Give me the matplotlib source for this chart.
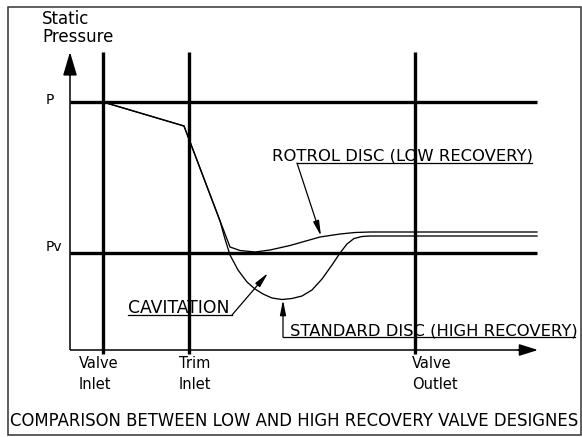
import matplotlib
matplotlib.use("Agg")
import matplotlib.pyplot as plt
from matplotlib.patches import Rectangle

# ---- data (drawing units: x = position along valve, y = static pressure, screen-like, down = lower) ----
station_names = ["Valve\nInlet", "Trim\nInlet", "Valve\nOutlet"]
station_x = [103, 189, 415]
level_names = ["P", "Pv"]
level_y = [102, 253]

low_rec_x = [103, 184, 230, 240, 255, 270, 290, 320, 340, 355, 370, 537]
low_rec_y = [102, 126, 247, 250.5, 252, 250, 245.5, 237, 234, 232.5, 232, 232]

high_rec_x = [103, 184, 220, 225, 230, 238, 247, 255, 263, 272, 282, 292, 302, 312, 322, 332, 340, 347, 354, 362, 370, 537]
high_rec_y = [102, 126, 221, 239, 255, 270, 282, 289, 294, 298, 299.5, 298.5, 296, 290, 279, 265, 253, 244, 238.5, 236.5, 236, 236]

callouts = ["ROTROL DISC (LOW RECOVERY)", "CAVITATION", "STANDARD DISC (HIGH RECOVERY)"]
title = "COMPARISON BETWEEN LOW AND HIGH RECOVERY VALVE DESIGNES"

fig = plt.figure(figsize=(5.82, 4.37), dpi=100)
ax = fig.add_axes([0, 0, 1, 1])
ax.set_xlim(0, 582)
ax.set_ylim(437, 0)
ax.axis("off")

FONT = "DejaVu Sans"

# border
ax.add_patch(Rectangle((8, 7), 573, 428, fill=False, ec="#333333", lw=1.1))

# axes with arrows
ax.plot([70, 70], [350, 70], color="k", lw=1.1, solid_capstyle="butt")
ax.plot([70, 524], [350, 350], color="k", lw=1.1, solid_capstyle="butt")
ax.annotate("", xy=(70, 52), xytext=(70, 75),
            arrowprops=dict(arrowstyle="-|>,head_length=1.45,head_width=0.43", color="k", lw=1.1,
                            shrinkA=0, shrinkB=0, mutation_scale=10))
ax.annotate("", xy=(538, 350), xytext=(518, 350),
            arrowprops=dict(arrowstyle="-|>,head_length=1.15,head_width=0.36", color="k", lw=1.1,
                            shrinkA=0, shrinkB=0, mutation_scale=10))

# station verticals
for sx in station_x:
    ax.plot([sx, sx], [52, 354], color="k", lw=2.4, solid_capstyle="butt")
# pressure levels
for ly in level_y:
    ax.plot([70, 537], [ly, ly], color="k", lw=2.4, solid_capstyle="butt")

# curves
ax.plot(low_rec_x, low_rec_y, color="k", lw=0.95, solid_joinstyle="round")
ax.plot(high_rec_x, high_rec_y, color="k", lw=0.95, solid_joinstyle="round")

# text
ax.text(42, 23.5, "Static", fontsize=12, family=FONT, ha="left", va="baseline")
ax.text(42, 42, "Pressure", fontsize=12, family=FONT, ha="left", va="baseline")
ax.text(46, 104, level_names[0], fontsize=10, family=FONT, ha="left", va="baseline")
ax.text(46, 251, level_names[1], fontsize=10, family=FONT, ha="left", va="baseline")

label_left = [79, 179, 412]
for name, lx in zip(station_names, label_left):
    l1, l2 = name.split("\n")
    ax.text(lx, 368.5, l1, fontsize=10.5, family=FONT, ha="left", va="baseline")
    ax.text(lx, 389, l2, fontsize=10.5, family=FONT, ha="left", va="baseline")

ax.text(10, 426.5, title, fontsize=11.9, family=FONT, ha="left", va="baseline")

arrow_kw = dict(arrowstyle="-|>,head_length=0.9,head_width=0.18", color="k", lw=0.9,
                shrinkA=0, shrinkB=0, mutation_scale=10)

# ROTROL callout
ax.text(272, 160.5, callouts[0], fontsize=11.8, family=FONT, ha="left", va="baseline")
ax.plot([297, 532], [163, 163], color="k", lw=0.9)
ax.annotate("", xy=(321, 236), xytext=(297, 163), arrowprops=arrow_kw)

# CAVITATION callout
ax.text(128, 313, callouts[1], fontsize=12.4, family=FONT, ha="left", va="baseline")
ax.plot([128, 232], [315, 315], color="k", lw=0.9)
ax.annotate("", xy=(268, 273), xytext=(232, 315), arrowprops=arrow_kw)

# STANDARD callout
ax.text(290, 335, callouts[2], fontsize=11.8, family=FONT, ha="left", va="baseline")
ax.plot([283, 575], [337, 337], color="k", lw=0.9)
ax.annotate("", xy=(283, 300), xytext=(283, 337), arrowprops=arrow_kw)

fig.savefig("out.png", dpi=100)
